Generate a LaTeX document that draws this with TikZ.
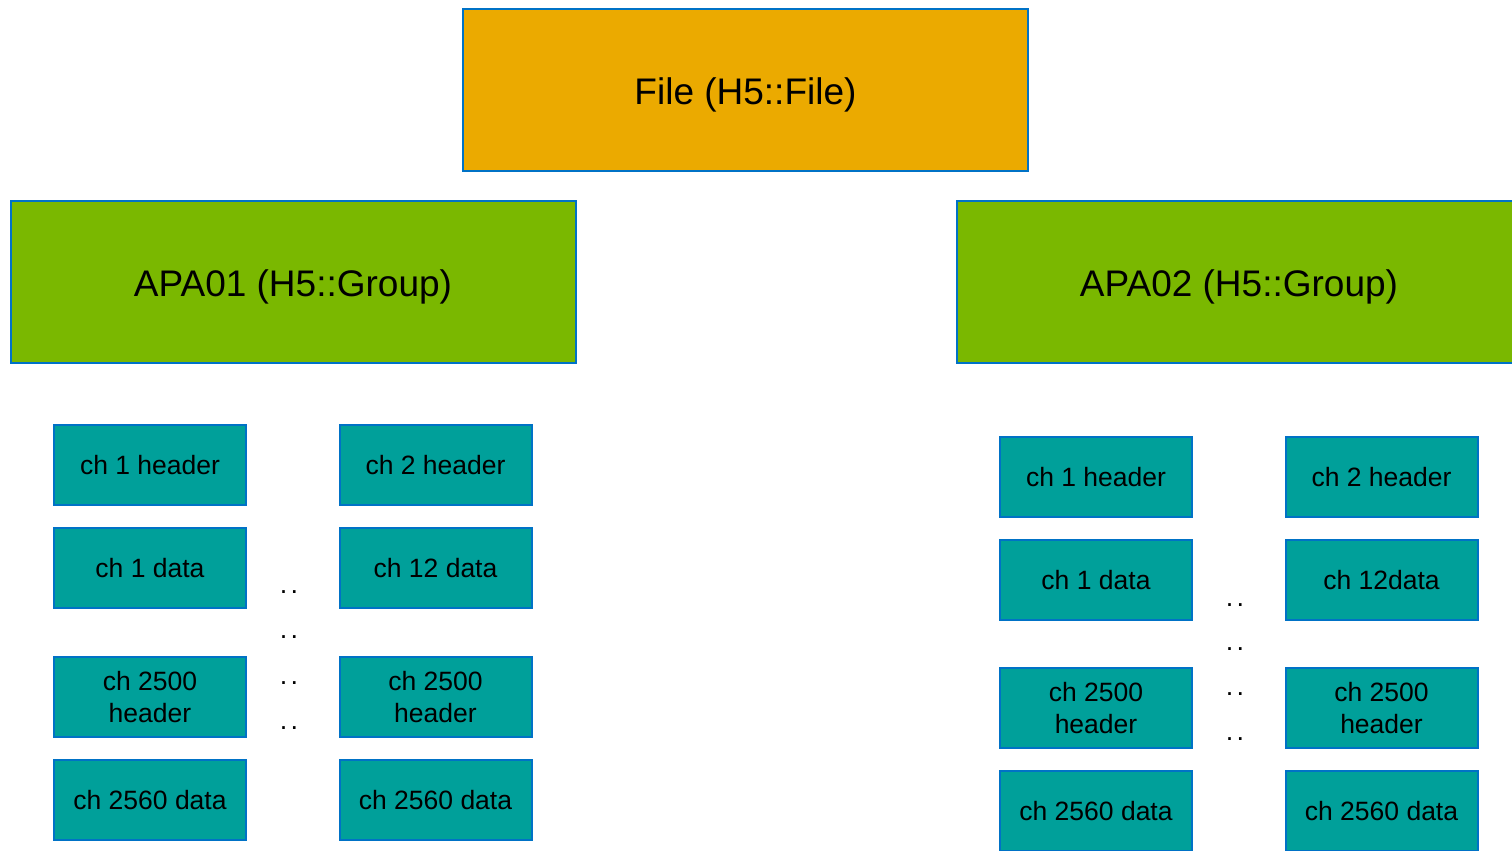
\documentclass[tikz,border=0pt]{standalone}
\usepackage{fontspec}
\setmainfont{Liberation Sans}
\definecolor{fileorange}{RGB}{235,170,0}
\definecolor{groupgreen}{RGB}{122,184,0}
\definecolor{chanteal}{RGB}{0,160,154}
\definecolor{edgeblue}{RGB}{0,114,198}
\tikzset{
  bigbox/.style={draw=edgeblue, line width=2pt, minimum width=565pt, minimum height=162pt,
    inner sep=0pt, font=\fontsize{37}{44}\selectfont},
  filebox/.style={bigbox, fill=fileorange},
  groupbox/.style={bigbox, fill=groupgreen},
  chanbox/.style={draw=edgeblue, line width=2pt, fill=chanteal, minimum width=192pt,
    minimum height=80pt, inner sep=0pt, align=center, font=\fontsize{26.5}{32}\selectfont},
  gapdots/.style={inner sep=0pt, font=\fontsize{27}{32}\selectfont}
}
\newcommand{\twodots}{.\kern3.4pt.}
\newcommand{\lowered}[1]{\raisebox{-4.5pt}[\height][\depth]{#1}}
\begin{document}
\begin{tikzpicture}[x=1pt, y=-1pt]
  \useasboundingbox (0,0) rectangle (1512,851);
  \clip (0,0) rectangle (1512,851);
  \fill[white] (0,0) rectangle (1512,851);

  % file and groups
  \node[filebox] (file) at (745.5,90) {\lowered{File (H5::File)}};
  \node[groupbox] (apa1) at (293,282) {\lowered{APA01 (H5::Group)}};
  \node[groupbox] (apa2) at (1239,282) {\lowered{APA02 (H5::Group)}};

  % APA01 channels
  \node[chanbox] (l11) at (150,465) {ch 1 header};
  \node[chanbox] (l12) at (150,568) {ch 1 data};
  \node[chanbox] (l13) at (150,697) {ch 2500\\header};
  \node[chanbox] (l14) at (150,800) {ch 2560 data};
  \node[chanbox] (l21) at (435.5,465) {ch 2 header};
  \node[chanbox] (l22) at (435.5,568) {ch 12 data};
  \node[chanbox] (l23) at (435.5,697) {ch 2500\\header};
  \node[chanbox] (l24) at (435.5,800) {ch 2560 data};
  \node[gapdots] (ld1) at (289,592) {\twodots};
  \node[gapdots] (ld2) at (289,637) {\twodots};
  \node[gapdots] (ld3) at (289,683) {\twodots};
  \node[gapdots] (ld4) at (289,728) {\twodots};

  % APA02 channels
  \node[chanbox] (r11) at (1096,477) {ch 1 header};
  \node[chanbox] (r12) at (1096,580) {ch 1 data};
  \node[chanbox] (r13) at (1096,708) {ch 2500\\header};
  \node[chanbox] (r14) at (1096,811) {ch 2560 data};
  \node[chanbox] (r21) at (1381.5,477) {ch 2 header};
  \node[chanbox] (r22) at (1381.5,580) {ch 12data};
  \node[chanbox] (r23) at (1381.5,708) {ch 2500\\header};
  \node[chanbox] (r24) at (1381.5,811) {ch 2560 data};
  \node[gapdots] (rd1) at (1235,605) {\twodots};
  \node[gapdots] (rd2) at (1235,649) {\twodots};
  \node[gapdots] (rd3) at (1235,694) {\twodots};
  \node[gapdots] (rd4) at (1235,739) {\twodots};
\end{tikzpicture}
\end{document}
